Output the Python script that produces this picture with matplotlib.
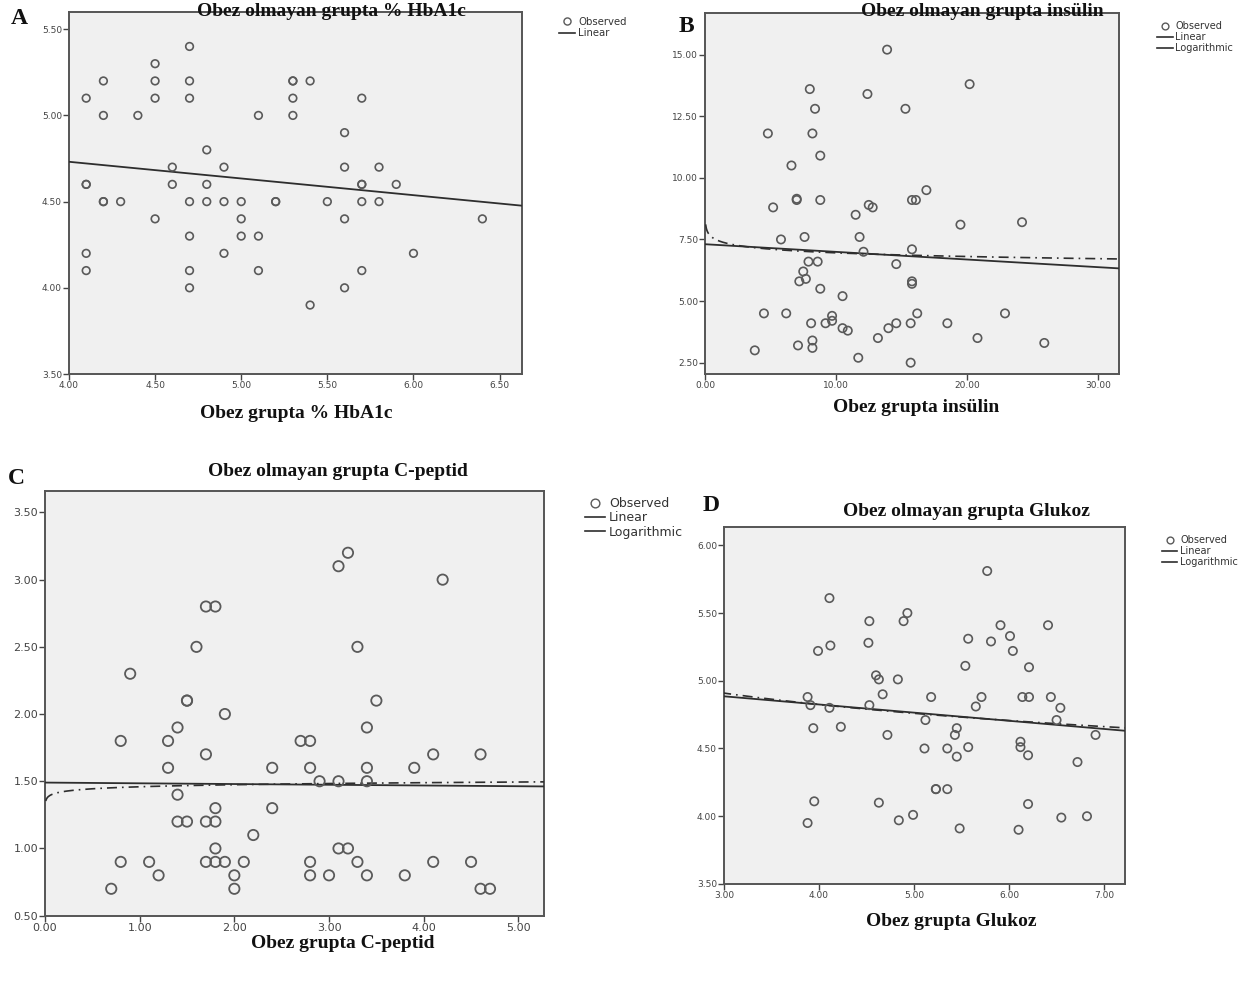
import numpy as np
import matplotlib
matplotlib.use("Agg")
import matplotlib.pyplot as plt
from matplotlib.lines import Line2D

# Panel A: HbA1c (darker circles are repeated values)
hba1c_x = [4.1, 4.1, 4.1, 4.1, 4.1, 4.2, 4.2, 4.2, 4.2, 4.3, 4.4, 4.5, 4.5, 4.5, 4.5, 4.6, 4.6,
           4.7, 4.7, 4.7, 4.7, 4.7, 4.7, 4.7, 4.8, 4.8, 4.8, 4.9, 4.9, 4.9, 5.0, 5.0, 5.0,
           5.1, 5.1, 5.1, 5.2, 5.2, 5.3, 5.3, 5.3, 5.3, 5.4, 5.4, 5.5, 5.6, 5.6, 5.6, 5.6,
           5.7, 5.7, 5.7, 5.7, 5.7, 5.8, 5.8, 5.9, 6.0, 6.4]
hba1c_y = [5.1, 4.6, 4.6, 4.2, 4.1, 5.2, 5.0, 4.5, 4.5, 4.5, 5.0, 5.3, 5.2, 5.1, 4.4, 4.7, 4.6,
           5.4, 5.2, 5.1, 4.5, 4.3, 4.1, 4.0, 4.8, 4.6, 4.5, 4.7, 4.5, 4.2, 4.5, 4.4, 4.3,
           5.0, 4.3, 4.1, 4.5, 4.5, 5.2, 5.2, 5.1, 5.0, 5.2, 3.9, 4.5, 4.9, 4.7, 4.4, 4.0,
           5.1, 4.6, 4.6, 4.5, 4.1, 4.7, 4.5, 4.6, 4.2, 4.4]

# Panel B: insulin
ins_x = [13.9, 8.0, 12.4, 8.4, 15.3, 4.8, 8.2, 8.8, 6.6, 7.0, 7.0, 8.8, 5.2, 12.5, 12.8,
         11.5, 16.9, 15.8, 16.1, 19.5, 5.8, 7.6, 11.8, 12.1, 15.8, 7.9, 8.6, 14.6, 7.5,
         7.2, 7.7, 15.8, 15.8, 8.8, 10.5, 4.5, 6.2, 16.2, 9.7, 9.7, 8.1, 9.2, 10.5, 10.9,
         14.0, 14.6, 15.7, 18.5, 13.2, 20.8, 8.2, 8.2, 7.1, 3.8, 11.7, 15.7, 20.2, 24.2,
         22.9, 25.9]
ins_y = [15.2, 13.6, 13.4, 12.8, 12.8, 11.8, 11.8, 10.9, 10.5, 9.1, 9.15, 9.1, 8.8, 8.9, 8.8,
         8.5, 9.5, 9.1, 9.1, 8.1, 7.5, 7.6, 7.6, 7.0, 7.1, 6.6, 6.6, 6.5, 6.2,
         5.8, 5.9, 5.8, 5.7, 5.5, 5.2, 4.5, 4.5, 4.5, 4.4, 4.2, 4.1, 4.1, 3.9, 3.8,
         3.9, 4.1, 4.1, 4.1, 3.5, 3.5, 3.4, 3.1, 3.2, 3.0, 2.7, 2.5, 13.8, 8.2,
         4.5, 3.3]

# Panel C: C-peptid
cpep_x = [0.9, 1.7, 1.8, 1.6, 1.5, 1.5, 1.9, 1.4, 0.8, 1.3, 1.7, 1.3, 2.4, 1.4, 1.8, 2.4,
          1.4, 1.5, 1.7, 1.8, 2.2, 1.8, 0.8, 1.1, 1.7, 1.8, 1.9, 2.1, 1.2, 2.0, 0.7, 2.0,
          3.2, 3.1, 4.2, 3.3, 3.5, 3.4, 2.7, 2.8, 4.1, 4.6, 2.8, 3.4, 3.9, 2.9, 3.1, 3.4,
          3.1, 3.2, 2.8, 3.3, 4.1, 4.5, 2.8, 3.0, 3.4, 3.8, 4.6, 4.7]
cpep_y = [2.3, 2.8, 2.8, 2.5, 2.1, 2.1, 2.0, 1.9, 1.8, 1.8, 1.7, 1.6, 1.6, 1.4, 1.3, 1.3,
          1.2, 1.2, 1.2, 1.2, 1.1, 1.0, 0.9, 0.9, 0.9, 0.9, 0.9, 0.9, 0.8, 0.8, 0.7, 0.7,
          3.2, 3.1, 3.0, 2.5, 2.1, 1.9, 1.8, 1.8, 1.7, 1.7, 1.6, 1.6, 1.6, 1.5, 1.5, 1.5,
          1.0, 1.0, 0.9, 0.9, 0.9, 0.9, 0.8, 0.8, 0.8, 0.8, 0.7, 0.7]

# Panel D: Glukoz
glu_x = [4.11, 4.93, 4.53, 4.89, 4.12, 3.99, 4.52, 5.57, 5.54, 4.60, 4.63, 4.83, 4.67,
         3.88, 5.18, 3.91, 4.53, 4.11, 5.65, 5.12, 3.94, 4.23, 5.45, 4.72, 5.43, 5.11,
         5.35, 5.57, 5.45, 5.23, 5.23, 5.35, 3.95, 4.63, 4.99, 4.84, 3.88, 5.48,
         5.77, 5.91, 6.41, 6.01, 5.81, 6.04, 6.21, 5.71, 6.14, 6.21, 6.44, 6.54, 6.50,
         6.91, 6.12, 6.12, 6.20, 6.72, 6.20, 6.55, 6.82, 6.10]
glu_y = [5.61, 5.50, 5.44, 5.44, 5.26, 5.22, 5.28, 5.31, 5.11, 5.04, 5.01, 5.01, 4.90,
         4.88, 4.88, 4.82, 4.82, 4.80, 4.81, 4.71, 4.65, 4.66, 4.65, 4.60, 4.60, 4.50,
         4.50, 4.51, 4.44, 4.20, 4.20, 4.20, 4.11, 4.10, 4.01, 3.97, 3.95, 3.91,
         5.81, 5.41, 5.41, 5.33, 5.29, 5.22, 5.10, 4.88, 4.88, 4.88, 4.88, 4.80, 4.71,
         4.60, 4.55, 4.51, 4.45, 4.40, 4.09, 3.99, 4.00, 3.90]

GRAY = "#5a5a5a"
LINE = "#2e2e2e"
SERIF = "Liberation Serif"


def style_axes(ax, xlim, ylim, xticks, yticks, tick_size):
    ax.set_facecolor("#f0f0f0")
    ax.set_xlim(*xlim)
    ax.set_ylim(*ylim)
    ax.set_xticks(xticks)
    ax.set_yticks(yticks)
    ax.set_xticklabels([f"{t:.2f}" for t in xticks])
    ax.set_yticklabels([f"{t:.2f}" for t in yticks])
    ax.tick_params(labelsize=tick_size, colors="#444444", length=4, width=1, pad=1)
    for s in ax.spines.values():
        s.set_color("#555555")
        s.set_linewidth(1.4)


def draw_fits(ax, x, y, xlim, log=False):
    x = np.asarray(x)
    y = np.asarray(y)
    b, a = np.polyfit(x, y, 1)
    xs = np.array(xlim)
    ax.plot(xs, a + b * xs, color=LINE, lw=1.3, zorder=3)
    if log:
        bl, al = np.polyfit(np.log(x), y, 1)
        xl = np.linspace(xlim[1] * 0.0015, xlim[1], 600)
        ax.plot(xl, al + bl * np.log(xl), color=LINE, lw=1.2,
                ls=(0, (6, 3, 1, 3)), zorder=3)


def legend(ax, loc, size, log):
    handles = [Line2D([], [], ls="none", marker="o", mfc="none", mec=GRAY, ms=size * 0.7),
               Line2D([], [], color=LINE, lw=1.2)]
    labels = ["Observed", "Linear"]
    if log:
        handles.append(Line2D([], [], color=LINE, lw=1.2))
        labels.append("Logarithmic")
    ax.legend(handles, labels, loc="upper left", bbox_to_anchor=loc, frameon=False,
              fontsize=size, handlelength=1.6, handletextpad=0.3, labelspacing=0.1,
              borderpad=0, labelcolor="#333333")


fig = plt.figure(figsize=(12.56, 9.9), dpi=100)

# A
axA = fig.add_axes([0.0549, 0.6222, 0.3607, 0.3657])
style_axes(axA, (4.0, 6.63), (3.5, 5.6), [4.0, 4.5, 5.0, 5.5, 6.0, 6.5],
           [3.5, 4.0, 4.5, 5.0, 5.5], 6.5)
axA.scatter(hba1c_x, hba1c_y, s=30, facecolors="none", edgecolors=GRAY, linewidths=1.2, zorder=4)
draw_fits(axA, hba1c_x, hba1c_y, (4.0, 6.63))
legend(axA, (1.07, 1.0), 7.3, False)

# B
axB = fig.add_axes([0.5613, 0.6222, 0.3296, 0.365])
style_axes(axB, (0.0, 31.6), (2.04, 16.7), [0, 10, 20, 30],
           [2.5, 5.0, 7.5, 10.0, 12.5, 15.0], 6.5)
axB.scatter(ins_x, ins_y, s=36, facecolors="none", edgecolors=GRAY, linewidths=1.2, zorder=4)
draw_fits(axB, ins_x, ins_y, (0.0, 31.6), log=True)
legend(axB, (1.08, 0.99), 7, True)

# C
axC = fig.add_axes([0.0358, 0.0751, 0.3973, 0.429])
style_axes(axC, (0.0, 5.27), (0.5, 3.66), [0, 1, 2, 3, 4, 5],
           [0.5, 1.0, 1.5, 2.0, 2.5, 3.0, 3.5], 8)
axC.scatter(cpep_x, cpep_y, s=55, facecolors="none", edgecolors=GRAY, linewidths=1.3, zorder=4)
draw_fits(axC, cpep_x, cpep_y, (0.0, 5.27), log=True)
legend(axC, (1.07, 1.0), 9, True)

# D
axD = fig.add_axes([0.5764, 0.1071, 0.3193, 0.3606])
style_axes(axD, (3.0, 7.22), (3.5, 6.135), [3, 4, 5, 6, 7],
           [3.5, 4.0, 4.5, 5.0, 5.5, 6.0], 6.5)
axD.scatter(glu_x, glu_y, s=36, facecolors="none", edgecolors=GRAY, linewidths=1.2, zorder=4)
draw_fits(axD, glu_x, glu_y, (3.0, 7.22), log=True)
legend(axD, (1.08, 0.99), 7, True)

# titles, axis labels and panel letters
texts = [
    (331, 12, "Obez olmayan grupta % HbA1c"),
    (982, 12, "Obez olmayan grupta insülin"),
    (338, 472, "Obez olmayan grupta C-peptid"),
    (966, 512, "Obez olmayan grupta Glukoz"),
    (296, 413, "Obez grupta % HbA1c"),
    (916, 408, "Obez grupta insülin"),
    (343, 943, "Obez grupta C-peptid"),
    (951, 922, "Obez grupta Glukoz"),
]
for x, y, s in texts:
    fig.text(x / 1256, 1 - y / 990, s, ha="center", va="center", fontsize=14,
             fontweight="bold", family=SERIF, color="#111111")

for x, y, s in [(19, 18, "A"), (686, 27, "B"), (16, 478, "C"), (711, 506, "D")]:
    fig.text(x / 1256, 1 - y / 990, s, ha="center", va="center", fontsize=17,
             fontweight="bold", family=SERIF, color="#111111")

fig.savefig("out.png", dpi=100, facecolor="white")
